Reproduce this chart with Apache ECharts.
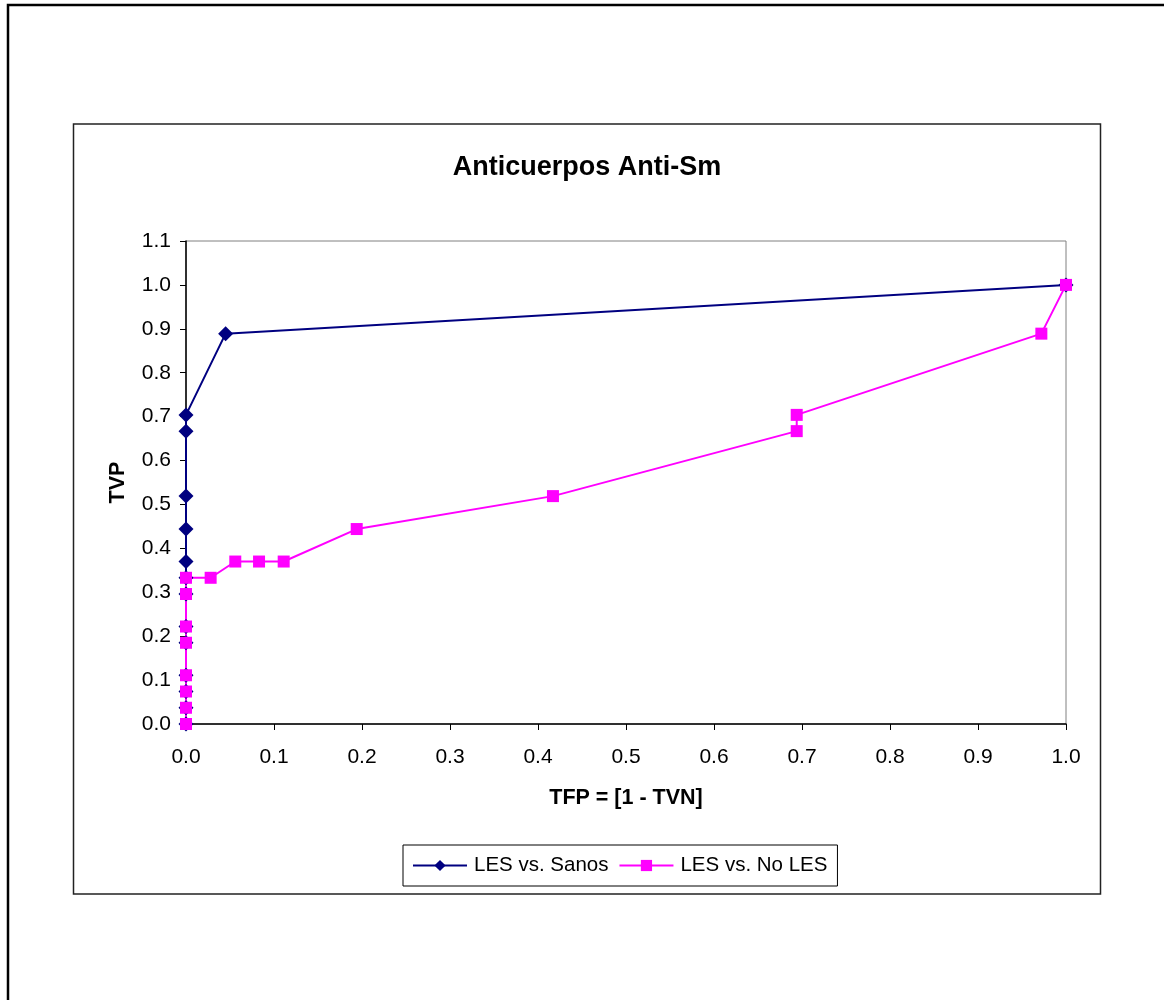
<!DOCTYPE html>
<html>
<head>
<meta charset="utf-8">
<script src="https://cdn.jsdelivr.net/npm/echarts@6/dist/echarts.min.js"></script>
<style>
html,body{margin:0;padding:0;background:#fff;}
#chart{width:1164px;height:1000px;}
</style>
</head>
<body>
<div id="chart"></div>
<script>
const chartTitle = 'Anticuerpos Anti-Sm';
const xAxisName = 'TFP = [1 - TVN]';
const yAxisName = 'TVP';
const seriesNames = ['LES vs. Sanos', 'LES vs. No LES'];

// LES vs. Sanos
const sanosX = [0, 0, 0, 0, 0, 0, 0, 0, 0, 0, 0, 0, 0, 0.045, 1.0];
const sanosY = [0.0, 0.037, 0.074, 0.111, 0.185, 0.222, 0.296, 0.333, 0.370, 0.444, 0.519, 0.667, 0.704, 0.889, 1.0];

// LES vs. No LES
const noLesX = [0, 0, 0, 0, 0, 0, 0, 0, 0.028, 0.056, 0.083, 0.111, 0.194, 0.417, 0.694, 0.694, 0.972, 1.0];
const noLesY = [0.0, 0.037, 0.074, 0.111, 0.185, 0.222, 0.296, 0.333, 0.333, 0.370, 0.370, 0.370, 0.444, 0.519, 0.667, 0.704, 0.889, 1.0];

const pair = (xs, ys) => xs.map((x, i) => [x, ys[i]]);
const FONT = '"Liberation Sans", Arial, sans-serif';

const chart = echarts.init(document.getElementById('chart'), null, {renderer: 'canvas'});
chart.setOption({
  animation: false,
  backgroundColor: '#ffffff',
  graphic: [
    {type: 'rect', z: -10, shape: {x: 8, y: 5, width: 1180, height: 1020},
     style: {fill: 'none', stroke: '#000', lineWidth: 2.5}},
    {type: 'rect', z: -10, shape: {x: 73.5, y: 124, width: 1027, height: 770},
     style: {fill: 'none', stroke: '#222', lineWidth: 1.5}}
  ],
  title: {
    text: chartTitle,
    left: 582, top: 149, textAlign: 'center',
    textStyle: {fontFamily: FONT, fontSize: 27, fontWeight: 'bold', color: '#000'}
  },
  legend: {
    data: seriesNames,
    left: 403, top: 845,
    orient: 'horizontal',
    itemWidth: 54, itemHeight: 14, itemGap: 10,
    padding: [10, 10, 10, 9],
    borderColor: '#000', borderWidth: 1,
    textStyle: {fontFamily: FONT, fontSize: 20.5, color: '#000', padding: [0, 0, 0, 2]}
  },
  grid: {
    left: 186, right: 98, top: 241, bottom: 276,
    show: true, borderColor: '#808080', borderWidth: 1, backgroundColor: '#fff',
    containLabel: false
  },
  xAxis: {
    type: 'value', min: 0, max: 1, interval: 0.1,
    name: xAxisName, nameLocation: 'middle', nameGap: 63,
    nameTextStyle: {fontFamily: FONT, fontSize: 21.5, fontWeight: 'bold', color: '#000'},
    axisLine: {show: true, onZero: false, lineStyle: {color: '#000', width: 1.5}},
    axisTick: {show: true, inside: false, length: 6, lineStyle: {color: '#000'}},
    axisLabel: {fontFamily: FONT, fontSize: 21, color: '#000', margin: 23,
      formatter: v => v.toFixed(1)},
    splitLine: {show: false}
  },
  yAxis: {
    type: 'value', min: 0, max: 1.1, interval: 0.1,
    name: yAxisName, nameLocation: 'middle', nameGap: 57,
    nameTextStyle: {fontFamily: FONT, fontSize: 21.5, fontWeight: 'bold', color: '#000'},
    axisLine: {show: true, onZero: false, lineStyle: {color: '#000', width: 1.5}},
    axisTick: {show: true, inside: false, length: 6, lineStyle: {color: '#000'}},
    axisLabel: {fontFamily: FONT, fontSize: 21, color: '#000', margin: 15,
      formatter: v => v.toFixed(1)},
    splitLine: {show: false}
  },
  series: [
    {
      name: seriesNames[0], type: 'line', data: pair(sanosX, sanosY),
      symbol: 'diamond', symbolSize: 15, showAllSymbol: true,
      itemStyle: {color: '#000080'},
      lineStyle: {color: '#000080', width: 2},
      clip: false
    },
    {
      name: seriesNames[1], type: 'line', data: pair(noLesX, noLesY),
      symbol: 'rect', symbolSize: 12, showAllSymbol: true,
      itemStyle: {color: '#ff00ff'},
      lineStyle: {color: '#ff00ff', width: 2},
      clip: false
    }
  ]
});
</script>
</body>
</html>
